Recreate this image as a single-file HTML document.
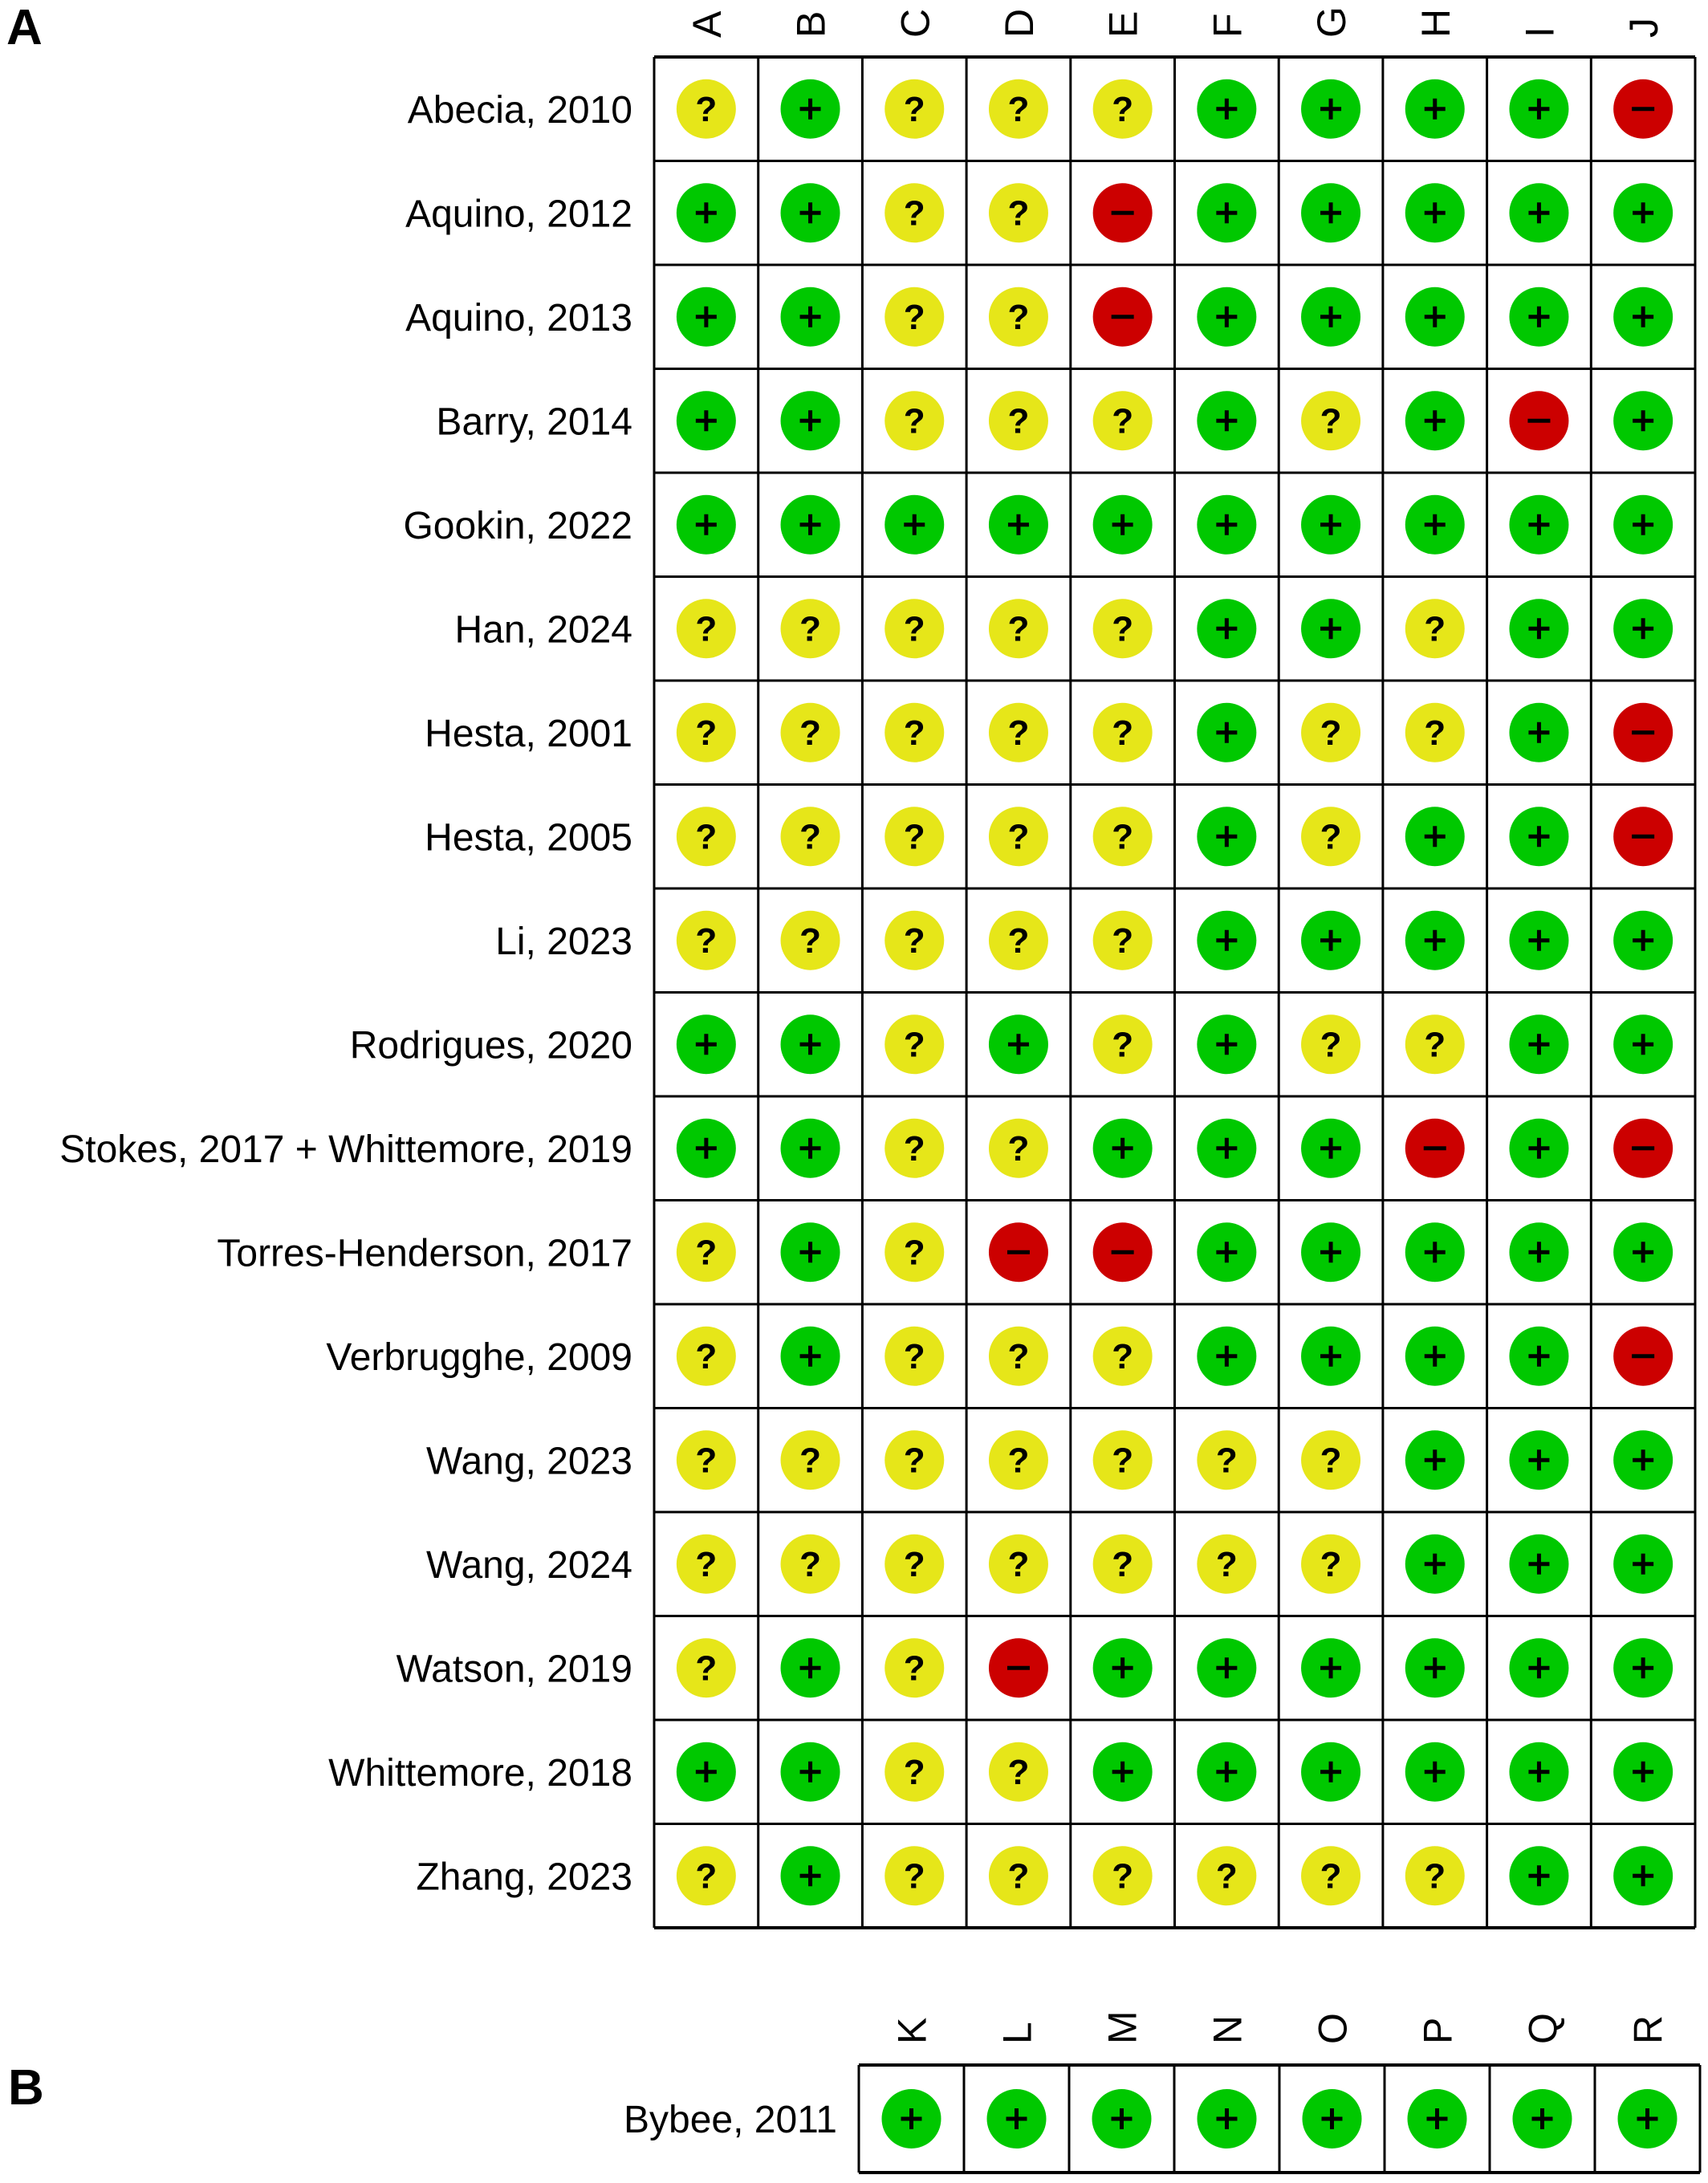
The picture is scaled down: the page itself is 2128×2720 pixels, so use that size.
<!DOCTYPE html>
<html><head><meta charset="utf-8"><style>
html,body{margin:0;padding:0;background:#fff;}
svg{display:block;font-family:"Liberation Sans",Arial,sans-serif;}
</style></head><body>
<svg id="chart" width="2128" height="2720" viewBox="0 0 2128 2720" xmlns="http://www.w3.org/2000/svg">
<text x="8" y="55" font-size="62" font-weight="bold">A</text>
<text x="10" y="2622" font-size="62" font-weight="bold">B</text>
</svg>
<script>
const studiesA = ["Abecia, 2010","Aquino, 2012","Aquino, 2013","Barry, 2014","Gookin, 2022","Han, 2024","Hesta, 2001","Hesta, 2005","Li, 2023","Rodrigues, 2020","Stokes, 2017 + Whittemore, 2019","Torres-Henderson, 2017","Verbrugghe, 2009","Wang, 2023","Wang, 2024","Watson, 2019","Whittemore, 2018","Zhang, 2023"];
const domainsA = ["A","B","C","D","E","F","G","H","I","J"];
const judgementsA = [
"?+???++++-",
"++??-++++",
"++??-+++++",
"++???+?+-+",
"++++++++++",
"?????++?++",
"?????+??+-",
"?????+?++-",
"?????+++++",
"++?+?+??++",
"++??+++-+-",
"?+?--+++++",
"?+???++++-",
"???????+++",
"???????+++",
"?+?-++++++",
"++??++++++",
"?+??????++"
];
judgementsA[1] = "++??-+++++";
const studiesB = ["Bybee, 2011"];
const domainsB = ["K","L","M","N","O","P","Q","R"];
const judgementsB = ["++++++++"];

const NS = "http://www.w3.org/2000/svg";
const svg = document.getElementById('chart');
const colors = {"+":"#00c800","?":"#e6e619","-":"#cc0000"};
function mk(tag, attrs, parent){const e=document.createElementNS(NS,tag);for(const k in attrs)e.setAttribute(k,attrs[k]);(parent||svg).appendChild(e);return e;}

function panel(name, studies, domains, judg, x0, y0, cw, ch, headerY){
  const g = mk('g',{});
  
  
  const W = cw*domains.length, H = ch*studies.length;
  domains.forEach((d,j)=>{
    const cx = x0 + cw*(j+0.5);
    const t = mk('text',{x:0,y:0,'font-size':50,transform:`translate(${cx+18},${headerY}) rotate(-90)`},g);
    t.textContent = d;
    
    
  });
  studies.forEach((s,i)=>{
    const cy = y0 + ch*(i+0.5);
    const t = mk('text',{x:x0-27,y:cy+17,'font-size':48,'text-anchor':'end'},g);
    t.textContent = s;
    
    
    domains.forEach((d,j)=>{
      const v = judg[i][j];
      const cx = x0 + cw*(j+0.5);
      const c = mk('g',{},g);
      
      
      mk('circle',{cx:cx,cy:cy,r:37,fill:colors[v]},c);
      if(v==='+'){
        mk('rect',{x:cx-13,y:cy-2.5,width:26,height:5,fill:'#000'},c);
        mk('rect',{x:cx-2.5,y:cy-13,width:5,height:26,fill:'#000'},c);
      } else if(v==='-'){
        mk('rect',{x:cx-14,y:cy-2.5,width:28,height:5,fill:'#000'},c);
      } else {
        const q = mk('text',{x:cx,y:cy+15,'font-size':44,'font-weight':'bold','text-anchor':'middle'},c);
        q.textContent='?';
      }
    });
  });
  for(let j=0;j<=domains.length;j++) mk('line',{x1:x0+cw*j,y1:y0,x2:x0+cw*j,y2:y0+H,stroke:'#000','stroke-width':3},g);
  for(let i=0;i<=studies.length;i++) mk('line',{x1:x0,y1:y0+ch*i,x2:x0+W,y2:y0+ch*i,stroke:'#000','stroke-width':(i===0||i===studies.length)?4:3},g);
}
panel('panel-a-grid', studiesA, domainsA, judgementsA, 815, 71, 129.7, 129.5, 47);
panel('panel-b-grid', studiesB, domainsB, judgementsB, 1070, 2573, 131, 134, 2547);
</script>
</body></html>
